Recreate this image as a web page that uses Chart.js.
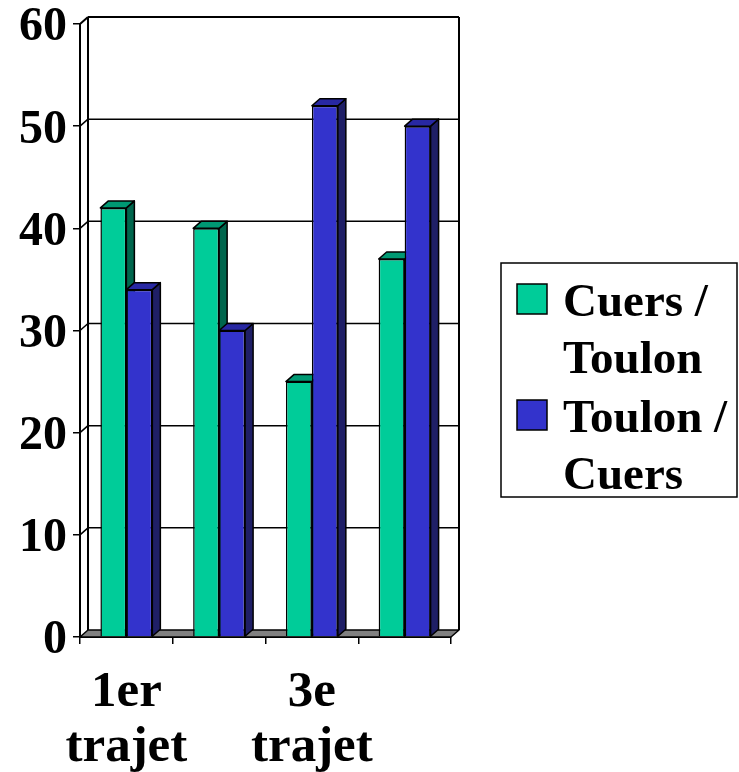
<!DOCTYPE html>
<html>
<head>
<meta charset="utf-8">
<script src="https://cdn.jsdelivr.net/npm/chart.js@4"></script>
<style>
  html, body { margin: 0; padding: 0; background: #fff; }
  canvas { display: block; }
</style>
</head>
<body>
<canvas id="grafico" width="739" height="772"></canvas>
<script>
// données
const categories = [["1er", "trajet"], ["2e", "trajet"], ["3e", "trajet"], ["4e", "trajet"]];
const series = ["Cuers / Toulon", "Toulon / Cuers"];
const cuersToulon = [42, 40, 25, 37];
const toulonCuers = [34, 30, 52, 50];
const graduations = [0, 10, 20, 30, 40, 50, 60];

const police = "'Liberation Serif', 'Times New Roman', serif";
const PX = 8, PY = -7; // profondeur du relief

const relief = {
  id: "relief",
  beforeDatasetsDraw(chart) {
    const { ctx, chartArea: a, scales } = chart;
    const y = scales.y;
    ctx.save();
    ctx.lineJoin = "round";

    // sol
    ctx.beginPath();
    ctx.moveTo(a.left, a.bottom);
    ctx.lineTo(a.right, a.bottom);
    ctx.lineTo(a.right + PX, a.bottom + PY);
    ctx.lineTo(a.left + PX, a.bottom + PY);
    ctx.closePath();
    ctx.fillStyle = "#808080";
    ctx.fill();
    ctx.strokeStyle = "#000";
    ctx.lineWidth = 1.5;
    ctx.stroke();

    // mur du fond + quadrillage
    graduations.forEach(v => {
      if (v === graduations[0]) return;
      const py = y.getPixelForValue(v);
      ctx.lineWidth = v === graduations[graduations.length - 1] ? 2 : 1.5;
      ctx.beginPath();
      ctx.moveTo(a.left + PX, py + PY);
      ctx.lineTo(a.right + PX, py + PY);
      ctx.moveTo(a.left, py);
      ctx.lineTo(a.left + PX, py + PY);
      ctx.stroke();
    });
    ctx.lineWidth = 2;
    ctx.beginPath();
    ctx.moveTo(a.left + PX, a.top + PY);
    ctx.lineTo(a.left + PX, a.bottom + PY);
    ctx.moveTo(a.right + PX, a.top + PY);
    ctx.lineTo(a.right + PX, a.bottom + PY);
    ctx.stroke();

    // côtés et dessus des barres
    ctx.lineWidth = 1.5;
    chart.data.datasets.forEach((ds, i) => {
      const meta = chart.getDatasetMeta(i);
      meta.data.forEach(bar => {
        const g = bar.x - bar.width / 2;
        const d = bar.x + bar.width / 2;
        const h = bar.y;
        const b = bar.base;

        ctx.beginPath();
        ctx.moveTo(d, h);
        ctx.lineTo(d + PX, h + PY);
        ctx.lineTo(d + PX, b + PY);
        ctx.lineTo(d, b);
        ctx.closePath();
        ctx.fillStyle = ds.couleurCote;
        ctx.fill();
        ctx.stroke();

        ctx.beginPath();
        ctx.moveTo(g, h);
        ctx.lineTo(g + PX, h + PY);
        ctx.lineTo(d + PX, h + PY);
        ctx.lineTo(d, h);
        ctx.closePath();
        ctx.fillStyle = ds.couleurDessus;
        ctx.fill();
        ctx.stroke();
      });
    });
    ctx.restore();
  }
};

const legende = {
  id: "legende",
  afterDraw(chart) {
    const ctx = chart.ctx;
    ctx.save();
    ctx.strokeStyle = "#000";
    ctx.lineWidth = 1.5;
    ctx.strokeRect(501, 263, 236, 234);

    ctx.font = "bold 47px " + police;
    ctx.textBaseline = "alphabetic";
    ctx.fillStyle = "#000";
    let base = 316;
    chart.data.datasets.forEach(ds => {
      // découpe du libellé en lignes
      const mots = ds.label.split(" ");
      const lignes = [];
      let courante = "";
      mots.forEach(m => {
        const essai = courante ? courante + " " + m : m;
        if (courante && ctx.measureText(essai).width > 172) {
          lignes.push(courante);
          courante = m;
        } else {
          courante = essai;
        }
      });
      lignes.push(courante);

      ctx.fillStyle = ds.backgroundColor;
      ctx.fillRect(517, base - 32, 30, 30);
      ctx.lineWidth = 1.5;
      ctx.strokeRect(517, base - 32, 30, 30);

      ctx.fillStyle = "#000";
      lignes.forEach((l, k) => {
        ctx.fillText(l, 563, base + k * 57);
      });
      base += 116;
    });
    ctx.restore();
  }
};

const canvas = document.getElementById("grafico");

new Chart(canvas, {
  type: "bar",
  data: {
    labels: categories,
    datasets: [
      {
        label: series[0],
        data: cuersToulon,
        backgroundColor: "#00CC99",
        couleurCote: "#00664D",
        couleurDessus: "#009973",
        borderColor: "#000",
        borderWidth: 1.5
      },
      {
        label: series[1],
        data: toulonCuers,
        backgroundColor: "#3333CC",
        couleurCote: "#1F1F66",
        couleurDessus: "#2828A3",
        borderColor: "#000",
        borderWidth: 1.5
      }
    ]
  },
  options: {
    responsive: false,
    animation: false,
    devicePixelRatio: 1,
    layout: { padding: { top: 24, right: 288, left: 0, bottom: 0 } },
    datasets: {
      bar: { barPercentage: 1, categoryPercentage: 0.56 }
    },
    plugins: {
      legend: { display: false },
      tooltip: { enabled: false }
    },
    scales: {
      x: {
        grid: { drawOnChartArea: false, tickLength: 7, color: "#000", lineWidth: 1.5, offset: true },
        border: { color: "#000", width: 2 },
        ticks: {
          color: "#000",
          font: { family: police, size: 51, weight: "bold", lineHeight: 1.08 },
          padding: 21,
          autoSkip: false,
          maxRotation: 0,
          callback: function (v, i) {
            return i % 2 === 0 ? categories[i] : "";
          }
        },
        afterFit: s => { s.height = 135; s.paddingLeft = 0; s.paddingRight = 0; }
      },
      y: {
        min: graduations[0],
        max: graduations[graduations.length - 1],
        grid: { drawOnChartArea: false, tickLength: 7, color: "#000", lineWidth: 1.5 },
        border: { color: "#000", width: 2 },
        ticks: {
          stepSize: graduations[1] - graduations[0],
          color: "#000",
          font: { family: police, size: 48, weight: "bold" },
          padding: 6,
          labelOffset: 4
        },
        afterFit: s => { s.width = 80; s.paddingTop = 0; s.paddingBottom = 0; }
      }
    }
  },
  plugins: [relief, legende]
});
</script>
</body>
</html>
